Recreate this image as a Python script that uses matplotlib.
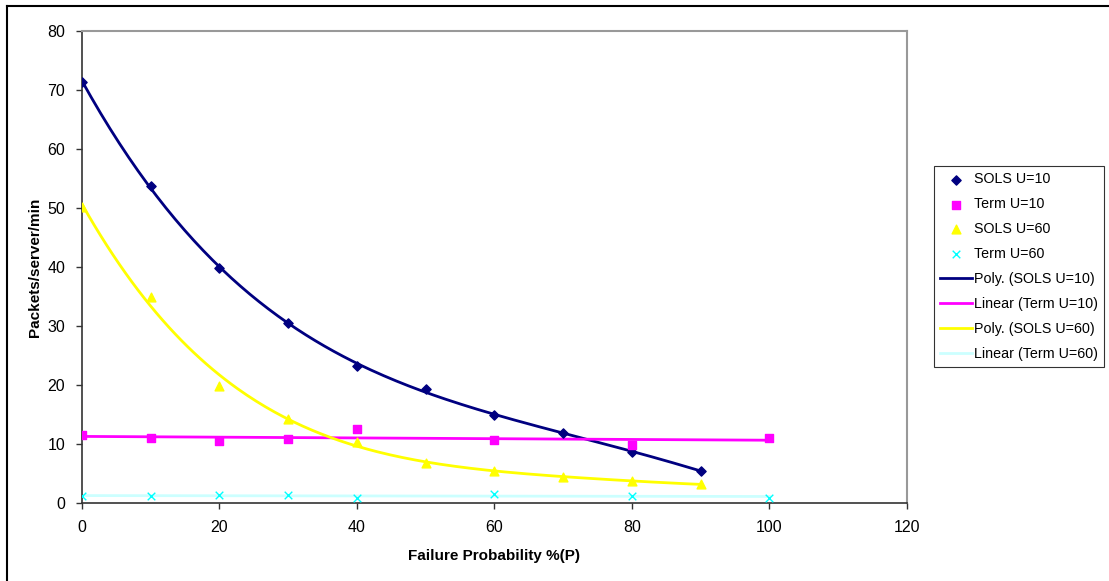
import numpy as np
import matplotlib
matplotlib.use("Agg")
import matplotlib.pyplot as plt
from matplotlib.lines import Line2D

plt.rcParams['font.family'] = ['Liberation Sans', 'DejaVu Sans']

# Data
x_sols = [0, 10, 20, 30, 40, 50, 60, 70, 80, 90]
sols_u10 = [71.4, 53.7, 39.8, 30.5, 23.2, 19.3, 15.0, 11.8, 8.6, 5.5]
sols_u60 = [50.2, 35.0, 19.9, 14.3, 10.4, 6.8, 5.4, 4.4, 3.7, 3.2]
x_term = [0, 10, 20, 30, 40, 60, 80, 100]
term_u10 = [11.5, 11.1, 10.5, 10.8, 12.5, 10.7, 9.9, 11.1]
term_u60 = [1.2, 1.2, 1.3, 1.3, 0.85, 1.6, 1.2, 0.9]

series_labels = ["SOLS U=10", "Term U=10", "SOLS U=60", "Term U=60"]
trend_labels = ["Poly. (SOLS U=10)", "Linear (Term U=10)",
                "Poly. (SOLS U=60)", "Linear (Term U=60)"]
xlabel = "Failure Probability %(P)"
ylabel = "Packets/server/min"

c_navy = "#000080"
c_mag = "#FF00FF"
c_yel = "#FFFF00"
c_cyan = "#00FFFF"
c_cyan_line = "#CCFFFF"

W, H = 1109, 581
fig = plt.figure(figsize=(W / 100, H / 100), dpi=100)
ax = fig.add_axes([82 / W, 1 - 503 / H, (907 - 82) / W, (503 - 31) / H])

# outer frame
fig.add_artist(Line2D([7 / W, 7 / W], [0, 1 - 6 / H], transform=fig.transFigure,
                      color="black", lw=1.5))
fig.add_artist(Line2D([7 / W, 1], [1 - 6 / H, 1 - 6 / H], transform=fig.transFigure,
                      color="black", lw=1.5))

# trendlines
xs = np.linspace(0, 90, 200)
p10 = np.polyfit(x_sols, sols_u10, 4)
p60 = np.polyfit(x_sols, sols_u60, 4)
xl = np.linspace(0, 100, 50)
l10 = np.polyfit(x_term, term_u10, 1)
l60 = np.polyfit(x_term, term_u60, 1)

h_poly10, = ax.plot(xs, np.polyval(p10, xs), color=c_navy, lw=2, zorder=2)
h_lin10, = ax.plot(xl, np.polyval(l10, xl), color=c_mag, lw=2, zorder=2)
h_poly60, = ax.plot(xs, np.polyval(p60, xs), color=c_yel, lw=2, zorder=2)
h_lin60, = ax.plot(xl, np.polyval(l60, xl), color=c_cyan_line, lw=2, zorder=2)

h1 = ax.scatter(x_sols, sols_u10, marker="D", s=22, color=c_navy, zorder=3)
h2 = ax.scatter(x_term, term_u10, marker="s", s=30, color=c_mag, zorder=3)
h3 = ax.scatter(x_sols, sols_u60, marker="^", s=40, color=c_yel, zorder=3)
h4 = ax.scatter(x_term, term_u60, marker="x", s=30, color=c_cyan, linewidths=1, zorder=3)

ax.set_xlim(0, 120)
ax.set_ylim(0, 80)
ax.set_xticks(range(0, 121, 20))
ax.set_yticks(range(0, 81, 10))
ax.tick_params(labelsize=11.5, direction="out", length=4, width=1, color="#333333",
               pad=8)
for s in ["top", "right"]:
    ax.spines[s].set_color("#999999")
    ax.spines[s].set_linewidth(1.5)
for s in ["left", "bottom"]:
    ax.spines[s].set_color("#333333")
    ax.spines[s].set_linewidth(1.2)

ax.set_xlabel(xlabel, fontsize=11, fontweight="bold", labelpad=10)
ax.set_ylabel(ylabel, fontsize=11, fontweight="bold", labelpad=4)

leg = fig.legend([h1, h2, h3, h4, h_poly10, h_lin10, h_poly60, h_lin60],
                 series_labels + trend_labels,
                 loc="upper left", bbox_to_anchor=(934 / W, 1 - 166 / H),
                 fontsize=10.3, frameon=True, fancybox=False, edgecolor="black",
                 handlelength=2.2, handletextpad=0.15, borderpad=0.45,
                 labelspacing=0.76, borderaxespad=0)
leg.get_frame().set_linewidth(0.8)

fig.savefig("out.png", dpi=100)
